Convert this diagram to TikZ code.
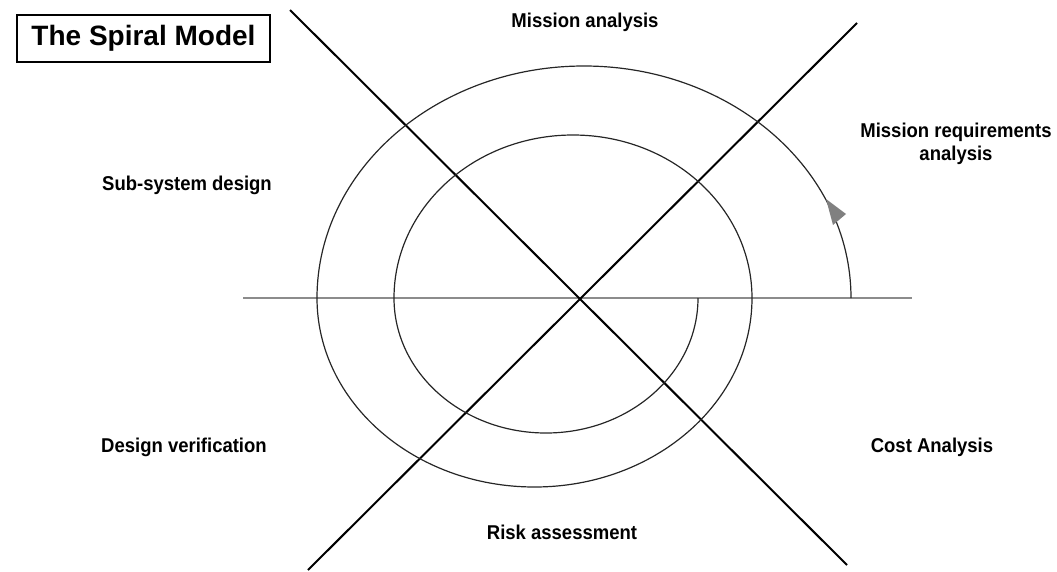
\documentclass[tikz,border=0pt]{standalone}
\usepackage{fontspec}
\setmainfont{Liberation Sans}
\begin{document}
\begin{tikzpicture}[x=1pt,y=-1pt,
  lbl/.style={font=\fontsize{18.5}{21.5}\selectfont\bfseries, inner sep=0pt, align=center, yscale=1.08},
  axis/.style={draw=black, line width=2pt},
  hline/.style={draw=black!45, line width=1.3pt},
  spiral/.style={draw=black!85, line width=1.2pt},
  tip/.style={fill=black!50, draw=none}]
\useasboundingbox (0,0) rectangle (1057,571);

% title
\node[draw=black, line width=1.3pt, minimum width=253pt, minimum height=47pt,
      font=\fontsize{28}{32}\selectfont\bfseries, inner sep=0pt] (title) at (143.5,38.5) {The Spiral Model};

% axes
\coordinate (c) at (580,298);
\coordinate (hl) at (243,298);
\coordinate (hr) at (912,298);
\coordinate (d1a) at (290,10);
\coordinate (d1b) at (847,565);
\coordinate (d2a) at (857,23);
\coordinate (d2b) at (308,570);
\draw[hline] (hl) -- (hr);
\draw[axis] (d1a) -- (d1b);
\draw[axis] (d2a) -- (d2b);

% spiral
\coordinate (s0) at (698,298);
\draw[spiral] (s0)
  arc[start angle=0,end angle=180,x radius=152,y radius=135]
  arc[start angle=180,end angle=360,x radius=179,y radius=163]
  arc[start angle=0,end angle=180,x radius=217.5,y radius=189]
  arc[start angle=180,end angle=360,x radius=267,y radius=232];

% arrowhead
\fill[tip] (826,199) -- (846,214) -- (833,225) -- cycle;

% labels
\node[lbl] (ma) at (585,22) {Mission analysis};
\node[lbl] (mra) at (956,144) {Mission requirements\\analysis};
\node[lbl] (ssd) at (187,185) {Sub-system design};
\node[lbl] (dv) at (184,447) {Design verification};
\node[lbl] (ca) at (932,447) {Cost Analysis};
\node[lbl] (ra) at (562,532) {Risk assessment};
\end{tikzpicture}
\end{document}
